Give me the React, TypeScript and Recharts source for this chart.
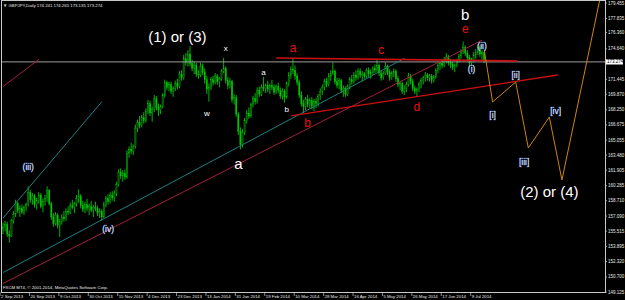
import React from 'react';
import { ComposedChart, Bar, Line, XAxis, YAxis, ReferenceLine, ReferenceDot } from 'recharts';

// daily bars [open, high, low, close], grouped by the date label each block starts at
const sep02 = [
  [155.6, 156.4, 155.2, 155.9], [155.9, 156.6, 155.5, 156.2], [156.2, 156.5, 154.9, 155.2], [155.2, 155.6, 154.3, 155.0],
  [155.0, 156.8, 154.9, 156.6], [156.6, 157.6, 156.3, 157.3], [157.3, 158.8, 157.0, 158.4], [158.4, 158.6, 157.4, 157.7],
  [157.7, 158.2, 157.0, 157.9], [157.9, 158.3, 157.3, 157.5], [157.5, 158.2, 157.2, 158.0], [158.0, 158.5, 157.6, 158.3],
  [158.3, 160.2, 158.1, 159.6], [159.6, 159.8, 158.5, 158.8],
];
const sep20 = [
  [158.8, 159.5, 158.3, 159.2], [159.2, 159.4, 158.0, 158.3], [158.3, 159.0, 157.8, 158.7], [158.7, 159.6, 158.4, 159.3],
  [159.3, 159.5, 157.9, 158.1], [158.1, 158.9, 157.5, 158.6], [158.6, 159.3, 158.2, 158.9], [158.9, 160.2, 158.6, 159.8],
  [159.8, 159.9, 158.2, 158.4], [158.4, 158.6, 156.7, 157.0], [157.0, 157.4, 156.0, 156.3], [156.3, 157.5, 156.1, 157.2],
  [157.2, 157.4, 155.8, 156.1], [156.1, 156.8, 154.9, 156.5],
];
const oct09 = [
  [156.5, 157.3, 156.2, 157.0], [157.0, 157.6, 156.5, 156.8], [156.8, 157.9, 156.6, 157.6], [157.6, 158.1, 157.2, 157.5],
  [157.5, 158.5, 157.3, 158.2], [158.2, 158.8, 157.8, 158.0], [158.0, 158.6, 157.4, 158.4], [158.4, 159.3, 158.1, 158.9],
  [158.9, 159.9, 158.5, 159.2], [159.2, 159.4, 157.9, 158.2], [158.2, 158.7, 157.5, 157.8], [157.8, 158.6, 157.4, 158.3],
  [158.3, 158.9, 157.6, 157.9], [157.9, 158.4, 157.2, 158.1],
];
const oct30 = [
  [158.1, 158.7, 157.5, 157.7], [157.7, 158.3, 157.0, 158.0], [158.0, 158.6, 157.6, 157.9], [157.9, 158.2, 157.1, 157.4],
  [157.4, 157.9, 156.9, 157.6], [157.6, 157.8, 156.6, 157.0], [157.0, 158.6, 156.9, 158.3], [158.3, 159.2, 158.0, 158.9],
  [158.9, 159.4, 158.3, 158.6], [158.6, 159.6, 158.4, 159.3], [159.3, 159.7, 158.7, 159.0], [159.0, 159.8, 158.6, 159.5],
  [159.5, 160.7, 159.2, 160.4], [160.4, 162.0, 160.2, 161.7],
];
const nov15 = [
  [161.7, 162.1, 161.0, 161.3], [161.3, 161.9, 160.7, 161.6], [161.6, 162.0, 160.9, 161.2], [161.2, 164.0, 161.0, 163.7],
  [163.7, 164.4, 163.2, 164.1], [164.1, 164.8, 163.6, 163.9], [163.9, 164.6, 163.5, 164.4], [164.4, 166.7, 164.2, 166.3],
  [166.3, 167.2, 165.9, 166.9], [166.9, 167.6, 166.3, 166.6], [166.6, 167.7, 166.4, 167.4], [167.4, 168.0, 166.8, 167.1],
  [167.1, 168.4, 166.9, 168.1], [168.1, 169.3, 167.8, 168.9],
];
const dec04 = [
  [168.9, 169.2, 167.6, 167.9], [167.9, 168.6, 167.0, 168.3], [168.3, 169.8, 168.0, 169.4], [169.4, 169.7, 168.2, 168.5],
  [168.5, 168.9, 167.6, 168.2], [168.2, 168.8, 167.8, 168.6], [168.6, 170.0, 168.4, 169.8], [169.8, 171.4, 169.5, 171.1],
  [171.1, 171.3, 170.3, 170.6], [170.6, 171.2, 170.2, 170.9], [170.9, 171.2, 169.9, 170.2], [170.2, 170.7, 169.6, 170.5],
  [170.5, 171.3, 170.2, 171.0], [171.0, 171.5, 170.4, 170.7],
];
const dec23 = [
  [170.7, 172.3, 170.5, 172.0], [172.0, 172.4, 171.3, 171.6], [171.6, 174.0, 171.4, 173.6], [173.6, 174.2, 172.9, 173.2],
  [173.2, 174.5, 172.8, 174.1], [174.1, 174.9, 172.8, 173.1], [173.1, 173.5, 172.3, 172.6], [172.6, 173.3, 172.0, 172.9],
  [172.9, 173.2, 171.7, 172.0], [172.0, 172.4, 171.5, 171.9], [171.9, 173.2, 171.7, 172.8], [172.8, 173.1, 171.9, 172.2],
  [172.2, 172.6, 171.0, 171.4], [171.4, 171.8, 169.9, 170.4],
];
const jan13 = [
  [170.4, 171.0, 169.1, 170.6], [170.6, 171.7, 170.3, 171.4], [171.4, 171.8, 170.8, 171.1], [171.1, 172.1, 170.9, 171.8],
  [171.8, 172.0, 170.9, 171.2], [171.2, 171.7, 170.6, 171.5], [171.5, 172.5, 171.3, 172.3], [172.3, 173.7, 172.1, 172.6],
  [172.6, 172.8, 171.0, 171.3], [171.3, 171.7, 170.4, 170.8], [170.8, 171.6, 170.5, 171.2], [171.2, 171.4, 169.0, 169.3],
  [169.3, 169.9, 168.8, 169.5], [169.5, 169.8, 167.5, 167.8],
];
const jan31 = [
  [167.8, 168.0, 165.6, 166.0], [166.0, 166.4, 164.1, 164.6], [164.6, 166.2, 164.3, 165.9], [165.9, 167.4, 165.6, 167.1],
  [167.1, 168.2, 166.8, 167.9], [167.9, 168.5, 167.3, 167.6], [167.6, 169.0, 167.4, 168.8], [168.8, 169.7, 168.5, 169.4],
  [169.4, 170.0, 168.8, 169.1], [169.1, 170.6, 168.9, 170.3], [170.3, 170.7, 169.6, 169.9], [169.9, 170.9, 169.7, 170.6],
  [170.6, 171.7, 170.2, 170.5], [170.5, 171.0, 170.0, 170.8],
];
const feb19 = [
  [170.8, 171.3, 170.1, 170.4], [170.4, 171.0, 169.9, 170.8], [170.8, 171.4, 170.3, 170.6], [170.6, 170.9, 169.8, 170.1],
  [170.1, 170.9, 169.9, 170.7], [170.7, 171.1, 170.0, 170.3], [170.3, 170.6, 169.4, 169.7], [169.7, 170.5, 169.3, 170.2],
  [170.2, 170.4, 169.0, 169.6], [169.6, 171.2, 169.4, 171.0], [171.0, 172.2, 170.7, 171.9], [171.9, 172.8, 171.5, 172.5],
  [172.5, 173.7, 172.0, 172.4], [172.4, 172.9, 171.4, 171.8],
];
const mar10 = [
  [171.8, 172.1, 170.8, 171.1], [171.1, 171.4, 169.5, 169.8], [169.8, 170.2, 168.6, 168.9], [168.9, 169.3, 167.9, 168.6],
  [168.6, 169.6, 168.2, 169.3], [169.3, 169.8, 168.5, 168.8], [168.8, 169.5, 168.4, 169.2], [169.2, 169.6, 168.3, 168.6],
  [168.6, 169.4, 168.1, 169.1], [169.1, 169.5, 168.4, 168.9], [168.9, 169.9, 168.6, 169.7], [169.7, 170.5, 169.3, 170.2],
  [170.2, 170.9, 169.8, 170.6], [170.6, 171.5, 170.3, 171.2],
];
const mar28 = [
  [171.2, 171.6, 170.6, 170.9], [170.9, 172.1, 170.7, 171.8], [171.8, 172.4, 171.3, 172.1], [172.1, 173.2, 171.9, 172.3],
  [172.3, 172.5, 170.9, 171.2], [171.2, 171.6, 170.5, 170.8], [170.8, 171.6, 170.4, 171.3], [171.3, 171.5, 170.0, 170.3],
  [170.3, 170.8, 169.6, 170.5], [170.5, 170.7, 169.6, 169.9], [169.9, 170.9, 169.7, 170.7], [170.7, 171.7, 170.4, 171.4],
  [171.4, 171.9, 170.9, 171.2], [171.2, 172.2, 171.0, 171.9],
];
const apr16 = [
  [171.9, 172.4, 171.3, 171.6], [171.6, 172.6, 171.4, 172.3], [172.3, 172.6, 171.6, 171.9], [171.9, 172.3, 171.2, 172.0],
  [172.0, 172.2, 171.5, 171.8], [171.8, 172.6, 171.6, 172.4], [172.4, 172.7, 171.7, 172.0], [172.0, 172.5, 171.5, 172.2],
  [172.2, 172.8, 171.9, 172.6], [172.6, 173.0, 172.1, 172.4], [172.4, 173.5, 172.2, 172.9], [172.9, 173.1, 171.8, 172.1],
  [172.1, 172.4, 171.3, 171.6], [171.6, 172.3, 171.4, 172.1],
];
const may05 = [
  [172.1, 173.2, 171.9, 172.8], [172.8, 173.0, 171.9, 172.2], [172.2, 172.5, 171.3, 171.6], [171.6, 172.3, 171.4, 172.1],
  [172.1, 172.6, 171.7, 172.3], [172.3, 172.5, 171.2, 171.5], [171.5, 171.8, 170.6, 170.9], [170.9, 171.3, 170.3, 171.0],
  [171.0, 171.2, 169.9, 170.2], [170.2, 170.8, 169.8, 170.5], [170.5, 171.2, 170.1, 170.9], [170.9, 172.1, 170.7, 171.8],
  [171.8, 172.0, 170.9, 171.2], [171.2, 171.5, 170.2, 170.5],
];
const may26 = [
  [170.5, 170.8, 169.9, 170.2], [170.2, 170.6, 169.7, 170.4], [170.4, 171.2, 170.1, 170.9], [170.9, 171.6, 170.5, 171.3],
  [171.3, 171.8, 170.9, 171.6], [171.6, 172.2, 171.2, 171.9], [171.9, 172.1, 171.3, 171.6], [171.6, 172.0, 171.2, 171.8],
  [171.8, 172.0, 171.0, 171.3], [171.3, 171.9, 171.1, 171.7], [171.7, 172.6, 171.5, 172.4], [172.4, 173.2, 172.1, 172.9],
  [172.9, 173.4, 172.4, 173.1], [173.1, 173.6, 172.6, 172.9],
];
const jun17 = [
  [172.9, 173.8, 172.7, 173.5], [173.5, 174.2, 173.1, 173.8], [173.8, 174.0, 172.9, 173.2], [173.2, 173.6, 172.6, 173.0],
  [173.0, 173.3, 172.4, 172.7], [172.7, 173.1, 172.2, 172.9], [172.9, 173.6, 172.7, 173.4], [173.4, 174.1, 173.2, 173.9],
  [173.9, 174.6, 173.6, 174.4], [174.4, 175.4, 174.1, 174.8], [174.8, 175.0, 173.9, 174.2], [174.2, 174.5, 173.4, 173.7],
  [173.7, 174.0, 172.9, 173.2], [173.2, 173.7, 172.8, 173.5],
];
const jul09 = [
  [173.5, 174.3, 173.2, 174.0], [174.0, 174.6, 173.6, 174.3], [174.3, 175.1, 174.0, 174.8], [174.8, 175.0, 173.8, 174.1],
  [174.1, 174.5, 173.4, 174.241], [174.241, 174.265, 173.135, 173.274],
];

const dateLabels = [
  '2 Sep 2013', '20 Sep 2013', '9 Oct 2013', '30 Oct 2013', '15 Nov 2013', '4 Dec 2013', '23 Dec 2013',
  '13 Jan 2014', '31 Jan 2014', '19 Feb 2014', '10 Mar 2014', '28 Mar 2014', '16 Apr 2014', '5 May 2014',
  '26 May 2014', '17 Jun 2014', '9 Jul 2014',
];
const priceTicks = [
  179.455, 177.835, 176.36, 174.64, 171.445, 169.87, 168.25, 166.675, 165.055, 163.48,
  161.905, 160.285, 158.71, 157.09, 155.515, 153.895, 152.32, 150.7, 149.125,
];
const lastPrice = 173.274;

// wave projection drawn after the last bar: [bar slot, price]
const projection = [[229, 174.55], [233, 169.07], [244, 171.16], [250, 164.24], [260, 167.49], [266, 160.88], [284, 179.77]];

// trend lines: [slot1, price1, slot2, price2, colour, width]
const trendLines: [number, number, number, number, string, number][] = [
  [0, 170.69, 17, 173.53, '#a3203c', 1],
  [0, 156.89, 47, 169.09, '#1f7f80', 1],
  [0, 151.17, 191, 173.64, '#1f7f80', 1],
  [0, 150.02, 228, 175.56, '#a3203c', 1],
  [130, 173.68, 245, 173.37, '#d00f0f', 1.6],
  [137, 167.6, 264, 171.9, '#d00f0f', 1.3],
];

// wave labels: [slot, price, text, style]
const waveLabels: [number, number, string, string][] = [
  [83, 175.94, '(1) or (3)', 'big'],
  [260, 159.62, '(2) or (4)', 'big'],
  [112, 162.66, 'a', 'big'],
  [220, 178.3, 'b', 'big'],
  [106, 174.73, 'x', 'small'],
  [97, 167.91, 'w', 'small'],
  [124, 172.11, 'a', 'small'],
  [135, 168.23, 'b', 'small'],
  [138, 174.73, 'a', 'red'],
  [145, 166.86, 'b', 'red'],
  [180, 174.52, 'c', 'red'],
  [197, 168.54, 'd', 'red'],
  [220, 176.73, 'e', 'red'],
  [12, 162.24, '(iii)', 'roman'],
  [50, 155.74, '(iv)', 'roman'],
  [223, 172.53, '(i)', 'roman'],
  [228, 174.94, '(ii)', 'roman'],
  [233, 167.7, '[i]', 'roman'],
  [244, 171.9, '[ii]', 'roman'],
  [248, 162.77, '[iii]', 'roman'],
  [263, 168.12, '[iv]', 'roman'],
];

const SLOTS = 287;
const candles = [
  ...sep02, ...sep20, ...oct09, ...oct30, ...nov15, ...dec04, ...dec23, ...jan13, ...jan31,
  ...feb19, ...mar10, ...mar28, ...apr16, ...may05, ...may26, ...jun17, ...jul09,
];
const projMap = new Map(projection.map(([i, p]) => [i, p]));
const data = Array.from({ length: SLOTS }, (_, idx) => {
  const c = candles[idx];
  return {
    idx,
    range: c ? [c[2], c[1]] : null,
    o: c ? c[0] : null,
    c: c ? c[3] : null,
    proj: projMap.has(idx) ? projMap.get(idx) : null,
  };
});
const dateTicks = dateLabels.map((_, k) => k * 14);

const FONT = '"Liberation Sans", Arial, sans-serif';

const Candle = (props: any) => {
  const { x, y, width, height, payload } = props;
  if (payload == null || payload.o == null || !payload.range) return <g />;
  const [low, high] = payload.range;
  const span = high - low || 1;
  const yOf = (v: number) => y + ((high - v) / span) * height;
  const cx = x + width / 2;
  const up = payload.c >= payload.o;
  const top = yOf(Math.max(payload.o, payload.c));
  const bot = yOf(Math.min(payload.o, payload.c));
  return (
    <g>
      <line x1={cx} x2={cx} y1={y} y2={y + height} stroke="#00c800" strokeWidth={0.9} />
      <rect x={cx - 0.7} y={top} width={1.4} height={Math.max(bot - top, 0.8)}
        fill={up ? '#0a500a' : '#00c800'} stroke="#00c800" strokeWidth={0.25} />
    </g>
  );
};

const DateTick = (props: any) => {
  const { x, payload } = props;
  const label = dateLabels[payload.value / 14];
  return (
    <g>
      <line x1={x - 3} x2={x - 3} y1={292} y2={296} stroke="#c8c8c8" strokeWidth={0.7} />
      <text x={x - 2} y={297.5} fontSize={4.3} fill="#e8e8e8" fontFamily={FONT}>{label}</text>
    </g>
  );
};

const PriceTick = (props: any) => {
  const { x, y, payload } = props;
  const v = payload.value;
  if (v === lastPrice) {
    return (
      <g>
        <rect x={x + 1} y={y - 2.6} width={17} height={5.2} fill="#ffffff" />
        <text x={x + 2} y={y} fontSize={4.5} fill="#000" dominantBaseline="central" fontFamily={FONT}>{v.toFixed(3)}</text>
      </g>
    );
  }
  return (
    <g>
      <line x1={x} x2={x + 2} y1={y} y2={y} stroke="#c8c8c8" strokeWidth={0.7} />
      <text x={x + 3} y={y} fontSize={4.5} fill="#e8e8e8" dominantBaseline="central" fontFamily={FONT}>{v.toFixed(3)}</text>
    </g>
  );
};

const labelStyle: Record<string, any> = {
  big: { fontSize: 15, fill: '#ffffff' },
  small: { fontSize: 8, fill: '#ffffff' },
  red: { fontSize: 12, fill: '#e81010' },
  roman: { fontSize: 8.5, fill: '#dfe8ff', stroke: '#5570c0', strokeWidth: 0.4, paintOrder: 'stroke' },
};

export default function App() {
  return (
    <div style={{ position: 'fixed', left: 0, top: 0, width: 625, height: 300, background: '#000' }}>
      <ComposedChart width={625} height={300} data={data} margin={{ top: 0, right: 0, bottom: 0, left: 2 }}
        barCategoryGap={0} barGap={0}>
        <XAxis dataKey="idx" type="category" ticks={dateTicks} interval={0} height={8}
          axisLine={false} tickLine={false} tick={<DateTick />} />
        <YAxis orientation="right" width={20} domain={[149.125, 179.77]} allowDataOverflow
          ticks={[...priceTicks, lastPrice]} interval={0} axisLine={false} tickLine={false}
          tickSize={0} tickMargin={0} tick={<PriceTick />} />
        <ReferenceLine y={lastPrice} stroke="#9c9c9c" strokeWidth={1} />
        {trendLines.map(([i1, p1, i2, p2, color, w], k) => (
          <ReferenceLine key={k} segment={[{ x: i1, y: p1 }, { x: i2, y: p2 }]} stroke={color} strokeWidth={w} />
        ))}
        <Bar dataKey="range" shape={<Candle />} isAnimationActive={false} />
        <Line dataKey="proj" stroke="#cc8410" strokeWidth={1} dot={false} connectNulls isAnimationActive={false} />
        {waveLabels.map(([i, p, text, kind], k) => (
          <ReferenceDot key={'l' + k} x={i} y={p} r={0}
            shape={(s: any) => (
              <text x={s.cx} y={s.cy} textAnchor="middle" dominantBaseline="central" fontFamily={FONT}
                {...labelStyle[kind]}>{text}</text>
            )} />
        ))}
      </ComposedChart>
      <svg width={625} height={300} style={{ position: 'absolute', left: 0, top: 0, pointerEvents: 'none' }}>
        <rect x={1.5} y={0.5} width={604} height={292} fill="none" stroke="#c8c8c8" strokeWidth={1} />
        <text x={3} y={7} fontSize={4.3} fill="#e8e8e8" fontFamily={FONT}>▼ GBPJPY,Daily  174.241 174.265 173.135 173.274</text>
        <text x={3} y={289} fontSize={4.3} fill="#e8e8e8" fontFamily={FONT}>FXCM MT4, © 2001-2014, MetaQuotes Software Corp.</text>
      </svg>
    </div>
  );
}
